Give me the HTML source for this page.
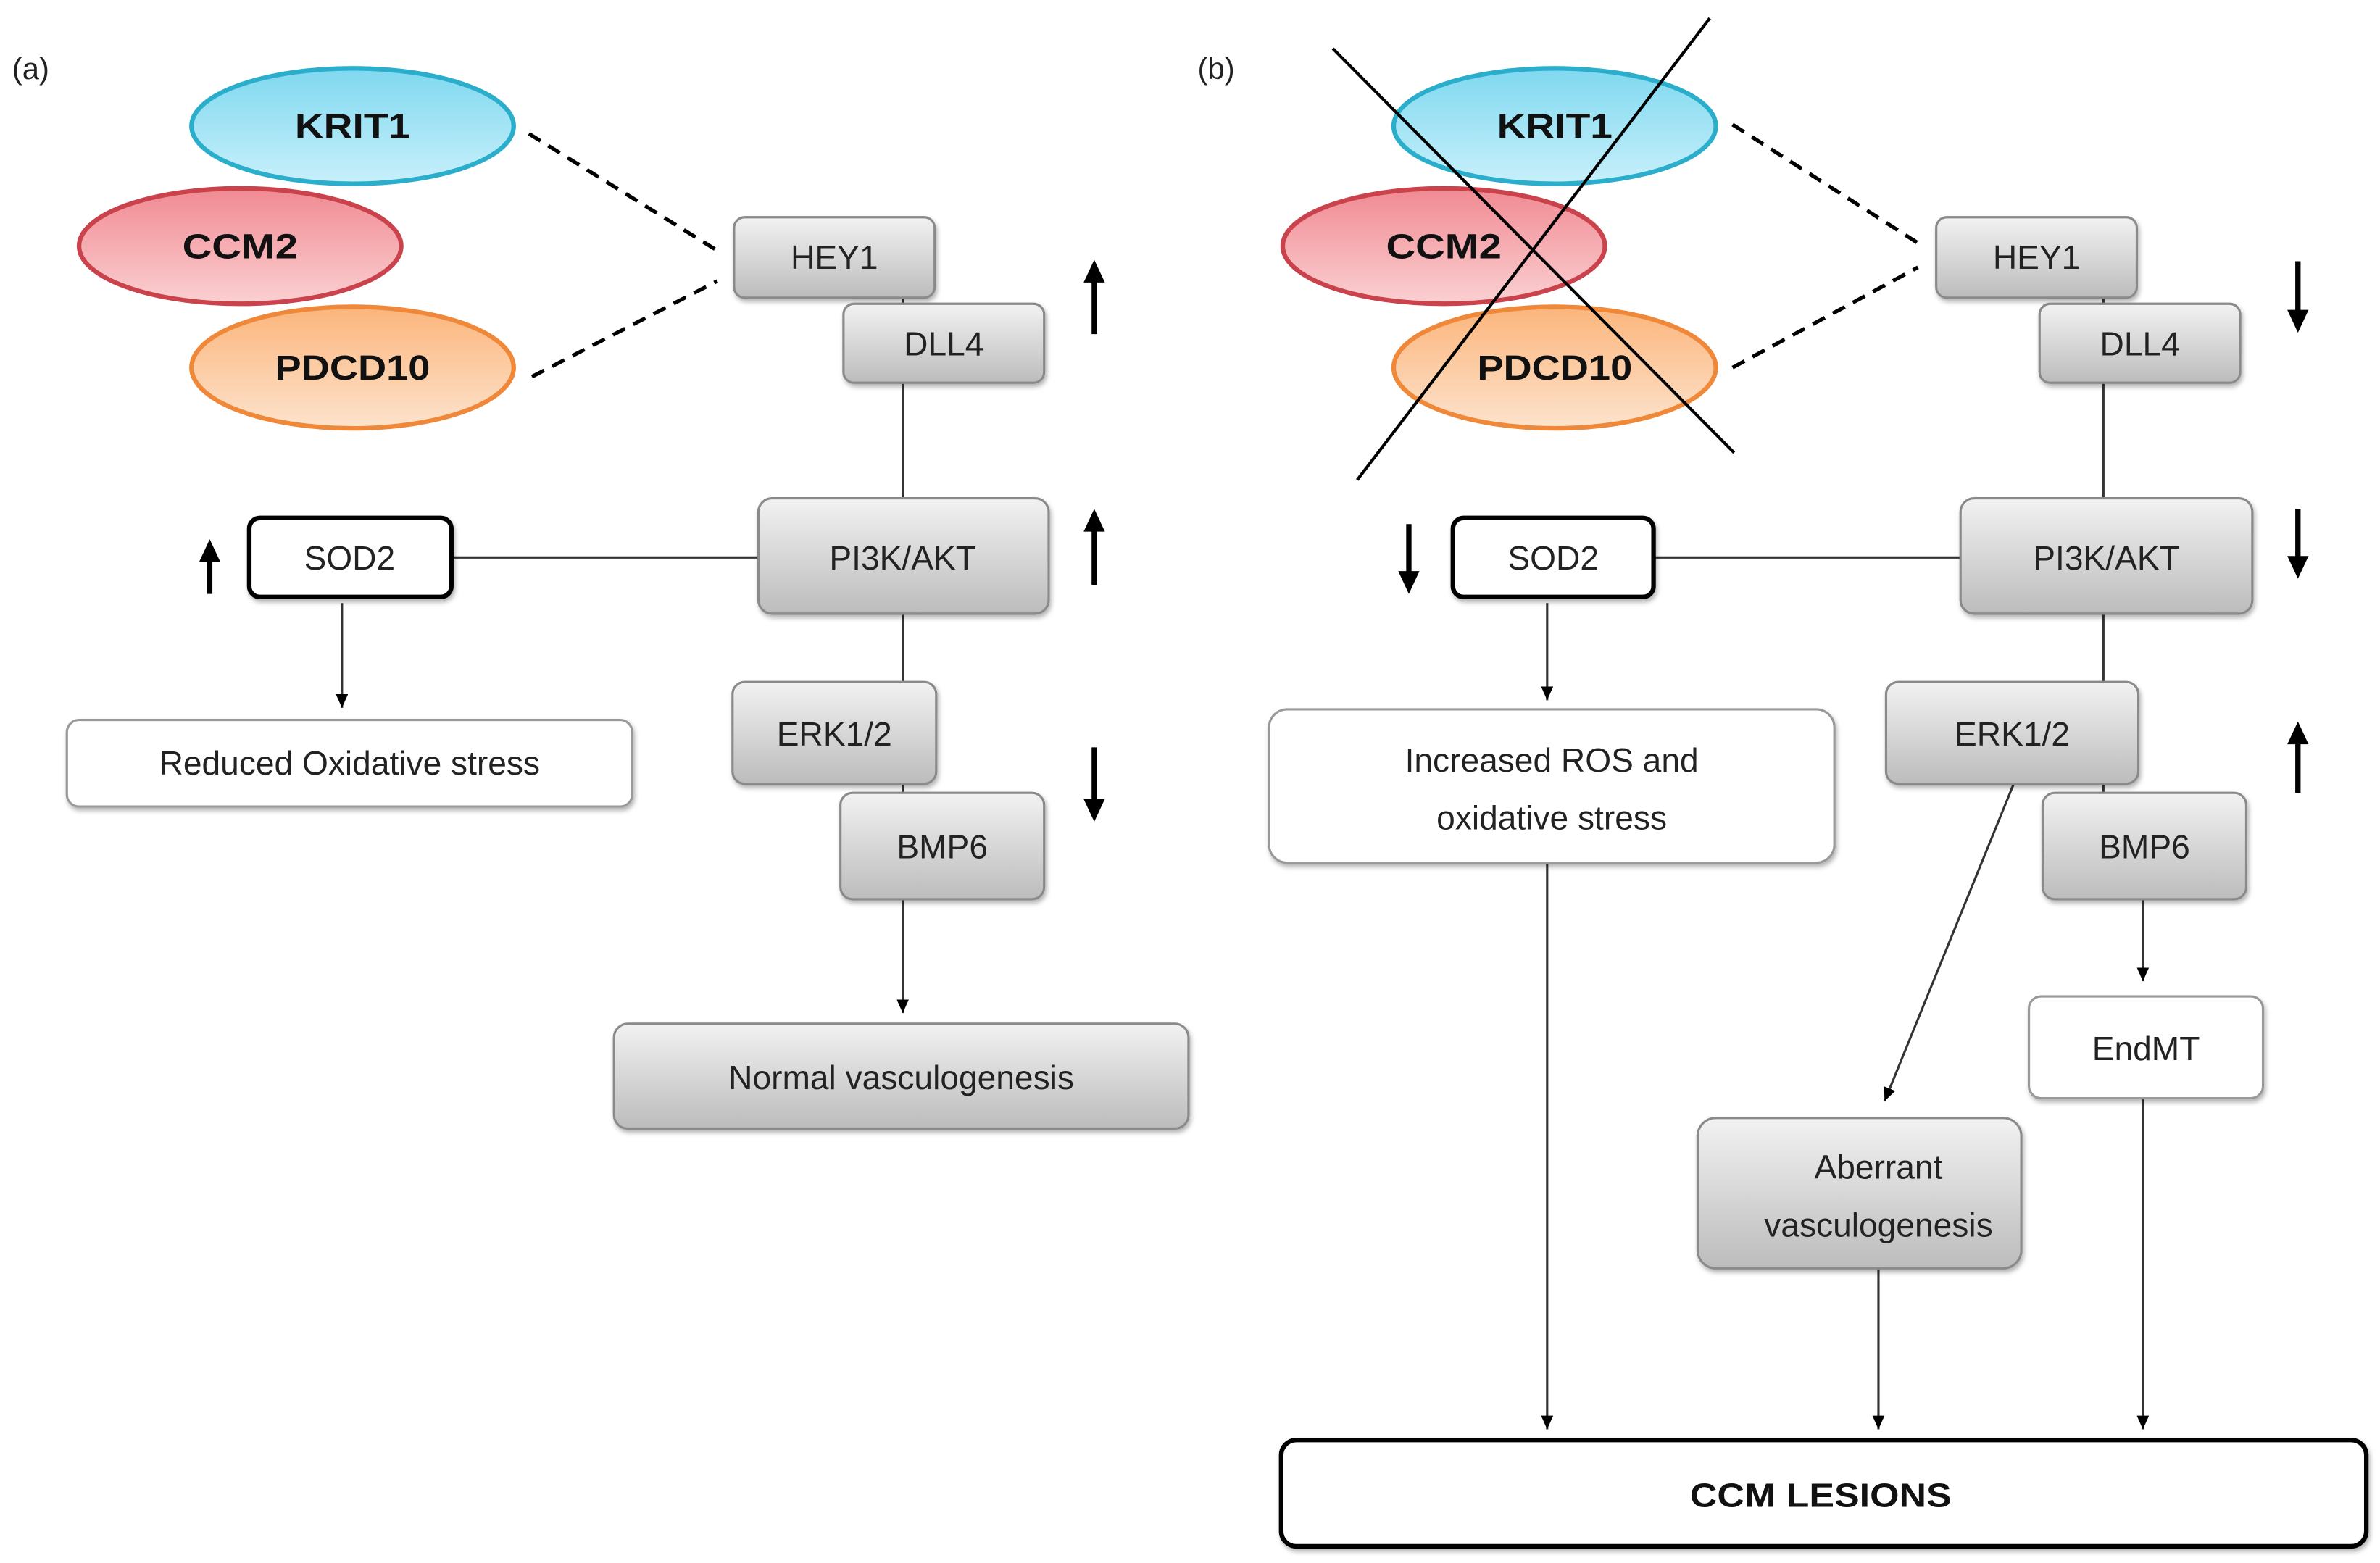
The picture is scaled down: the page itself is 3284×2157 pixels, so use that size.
<!DOCTYPE html>
<html><head><meta charset="utf-8"><style>html,body{margin:0;padding:0;background:#fff}svg{display:block}</style></head>
<body>
<svg width="3284" height="2157" viewBox="0 0 1566 1029" preserveAspectRatio="none" xmlns="http://www.w3.org/2000/svg" font-family="Liberation Sans, sans-serif">
<defs>
<linearGradient id="g" x1="0" y1="0" x2="0" y2="1"><stop offset="0" stop-color="#f2f2f2"/><stop offset="1" stop-color="#bcbcbc"/></linearGradient>
<linearGradient id="cy" x1="0" y1="0" x2="0" y2="1"><stop offset="0" stop-color="#7fd8ef"/><stop offset="1" stop-color="#c8f0fb"/></linearGradient>
<linearGradient id="rd" x1="0" y1="0" x2="0" y2="1"><stop offset="0" stop-color="#f08a92"/><stop offset="1" stop-color="#fbd0d2"/></linearGradient>
<linearGradient id="or" x1="0" y1="0" x2="0" y2="1"><stop offset="0" stop-color="#fbb57c"/><stop offset="1" stop-color="#fde3cc"/></linearGradient>
<marker id="ah" markerWidth="9" markerHeight="8" refX="9" refY="4" orient="auto" markerUnits="userSpaceOnUse"><path d="M0,0 L9,4 L0,8 z" fill="#000"/></marker>
<filter id="sh" x="-10%" y="-10%" width="130%" height="140%"><feDropShadow dx="1" dy="2" stdDeviation="1.5" flood-color="#000" flood-opacity="0.3"/></filter>
</defs>
<g font-size="22" fill="#222">
<text x="8" y="52" font-size="20">(a)</text>
<text x="788" y="52" font-size="20">(b)</text>
</g>
<g stroke="#333" stroke-width="1.5" fill="none">
<line x1="594" y1="196" x2="594" y2="329"/>
<line x1="594" y1="404" x2="594" y2="522"/>
<line x1="297" y1="367" x2="499" y2="367"/>
<line x1="225" y1="397" x2="225" y2="466" marker-end="url(#ah)"/>
<line x1="594" y1="592" x2="594" y2="667" marker-end="url(#ah)"/>
<line x1="1384" y1="196" x2="1384" y2="329"/>
<line x1="1384" y1="404" x2="1384" y2="522"/>
<line x1="1088" y1="367" x2="1290" y2="367"/>
<line x1="1018" y1="397" x2="1018" y2="461" marker-end="url(#ah)"/>
<line x1="1018" y1="568" x2="1018" y2="941" marker-end="url(#ah)"/>
<line x1="1325" y1="516" x2="1240" y2="725" marker-end="url(#ah)"/>
<line x1="1410" y1="592" x2="1410" y2="646" marker-end="url(#ah)"/>
<line x1="1410" y1="723" x2="1410" y2="941" marker-end="url(#ah)"/>
<line x1="1236" y1="835" x2="1236" y2="941" marker-end="url(#ah)"/>
</g>
<g stroke="#000" stroke-width="2.5" stroke-dasharray="9,6">
<line x1="348" y1="88" x2="472" y2="165"/><line x1="350" y1="248" x2="472" y2="185"/>
<line x1="1140" y1="82" x2="1262" y2="160"/><line x1="1140" y1="242" x2="1262" y2="176"/>
</g>
<g stroke-width="3" font-weight="bold" font-size="23" text-anchor="middle">
<ellipse cx="232" cy="83" rx="106" ry="38" fill="url(#cy)" stroke="#2aaecb"/>
<ellipse cx="158" cy="162" rx="106" ry="38" fill="url(#rd)" stroke="#c9424c"/>
<ellipse cx="232" cy="242" rx="106" ry="40" fill="url(#or)" stroke="#f0883a"/>
<text x="232" y="91" stroke="none" fill="#111" textLength="76" lengthAdjust="spacingAndGlyphs">KRIT1</text>
<text x="158" y="170" stroke="none" fill="#111" textLength="76" lengthAdjust="spacingAndGlyphs">CCM2</text>
<text x="232" y="250" stroke="none" fill="#111" textLength="102" lengthAdjust="spacingAndGlyphs">PDCD10</text>
<ellipse cx="1023" cy="83" rx="106" ry="38" fill="url(#cy)" stroke="#2aaecb"/>
<ellipse cx="950" cy="162" rx="106" ry="38" fill="url(#rd)" stroke="#c9424c"/>
<ellipse cx="1023" cy="242" rx="106" ry="40" fill="url(#or)" stroke="#f0883a"/>
<text x="1023" y="91" stroke="none" fill="#111" textLength="76" lengthAdjust="spacingAndGlyphs">KRIT1</text>
<text x="950" y="170" stroke="none" fill="#111" textLength="76" lengthAdjust="spacingAndGlyphs">CCM2</text>
<text x="1023" y="250" stroke="none" fill="#111" textLength="102" lengthAdjust="spacingAndGlyphs">PDCD10</text>
</g>
<g stroke="#000" stroke-width="2"><line x1="877" y1="32" x2="1141" y2="298"/><line x1="1125" y1="12" x2="893" y2="316"/></g>
<g fill="url(#g)" stroke="#8a8a8a" stroke-width="1.5" filter="url(#sh)">
<rect x="483" y="143" width="132" height="53" rx="7"/>
<rect x="555" y="200" width="132" height="52" rx="7"/>
<rect x="499" y="328" width="191" height="76" rx="9"/>
<rect x="482" y="449" width="134" height="67" rx="8"/>
<rect x="553" y="522" width="134" height="70" rx="8"/>
<rect x="404" y="674" width="378" height="69" rx="9"/>
<rect x="1274" y="143" width="132" height="53" rx="7"/>
<rect x="1342" y="200" width="132" height="52" rx="7"/>
<rect x="1290" y="328" width="192" height="76" rx="9"/>
<rect x="1241" y="449" width="166" height="67" rx="8"/>
<rect x="1344" y="522" width="134" height="70" rx="8"/>
<rect x="1117" y="736" width="213" height="99" rx="12"/>
</g>
<g fill="#fff" filter="url(#sh)">
<rect x="164" y="341" width="133" height="52" rx="7" stroke="#000" stroke-width="3"/>
<rect x="956" y="341" width="132" height="52" rx="7" stroke="#000" stroke-width="3"/>
<rect x="44" y="474" width="372" height="57" rx="8" stroke="#999" stroke-width="1.5"/>
<rect x="835" y="467" width="372" height="101" rx="12" stroke="#999" stroke-width="1.5"/>
<rect x="1335" y="656" width="154" height="67" rx="8" stroke="#999" stroke-width="1.5"/>
<rect x="843" y="948" width="714" height="70" rx="10" stroke="#000" stroke-width="3"/>
</g>
<g font-size="22" fill="#222" text-anchor="middle">
<text x="549" y="177">HEY1</text><text x="621" y="234">DLL4</text>
<text x="594" y="375">PI3K/AKT</text><text x="549" y="491">ERK1/2</text>
<text x="620" y="565">BMP6</text><text x="593" y="717">Normal vasculogenesis</text>
<text x="230" y="375">SOD2</text><text x="230" y="510">Reduced Oxidative stress</text>
<text x="1340" y="177">HEY1</text><text x="1408" y="234">DLL4</text>
<text x="1386" y="375">PI3K/AKT</text><text x="1324" y="491">ERK1/2</text>
<text x="1411" y="565">BMP6</text><text x="1022" y="375">SOD2</text>
<text x="1021" y="508">Increased ROS and</text><text x="1021" y="546">oxidative stress</text>
<text x="1412" y="698">EndMT</text>
<text x="1236" y="776">Aberrant</text><text x="1236" y="814">vasculogenesis</text>
<text x="1198" y="992" font-weight="bold" textLength="172" lengthAdjust="spacingAndGlyphs" fill="#111">CCM LESIONS</text>
</g>
<g stroke="#000" stroke-width="3.5" fill="#000">
<line x1="720" y1="184" x2="720" y2="220"/><path d="M713,186 L720,171 L727,186z" stroke="none"/>
<line x1="720" y1="348" x2="720" y2="385"/><path d="M713,350 L720,335 L727,350z" stroke="none"/>
<line x1="720" y1="492" x2="720" y2="528"/><path d="M713,526 L720,541 L727,526z" stroke="none"/>
<line x1="138" y1="368" x2="138" y2="391"/><path d="M131,370 L138,355 L145,370z" stroke="none"/>
<line x1="1512" y1="172" x2="1512" y2="206"/><path d="M1505,204 L1512,219 L1519,204z" stroke="none"/>
<line x1="1512" y1="335" x2="1512" y2="368"/><path d="M1505,366 L1512,381 L1519,366z" stroke="none"/>
<line x1="1512" y1="488" x2="1512" y2="522"/><path d="M1505,490 L1512,475 L1519,490z" stroke="none"/>
<line x1="927" y1="345" x2="927" y2="378"/><path d="M920,376 L927,391 L934,376z" stroke="none"/>
</g>
</svg>
</body></html>
